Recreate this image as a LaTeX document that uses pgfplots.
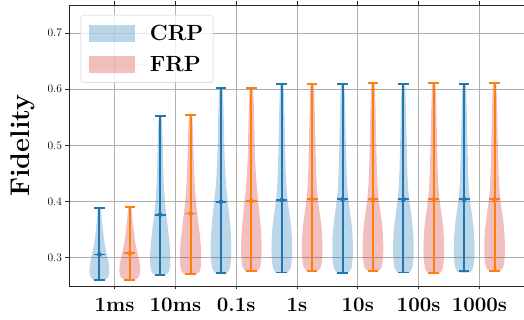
\documentclass[border=0pt]{standalone}
\usepackage{pgfplots}
\usepackage{pgfplotstable}
\pgfplotsset{compat=1.18}
\definecolor{tabblue}{HTML}{1F77B4}
\definecolor{taborange}{HTML}{FF7F0E}
\definecolor{tabred}{HTML}{D62728}
\definecolor{gridc}{HTML}{B0B0B0}

% violin outlines: y value and half width (axis x units)
\pgfplotstableread{
y hw
0.2600 0
0.2600 0.058
0.2615 0.107
0.2650 0.140
0.2720 0.161
0.2800 0.164
0.2900 0.153
0.3000 0.135
0.3100 0.115
0.3200 0.095
0.3330 0.076
0.3500 0.058
0.3650 0.043
0.3800 0.031
0.3890 0.023
0.3890 0
}\Acrp
\pgfplotstableread{
y hw
0.2610 0
0.2610 0.060
0.2625 0.112
0.2660 0.147
0.2730 0.169
0.2810 0.172
0.2910 0.161
0.3010 0.142
0.3110 0.121
0.3210 0.100
0.3340 0.080
0.3510 0.061
0.3660 0.045
0.3810 0.033
0.3910 0.024
0.3910 0
}\Afrp
\pgfplotstableread{
y hw
0.270 0
0.270 0.070
0.2715 0.115
0.276 0.145
0.285 0.162
0.300 0.166
0.315 0.162
0.330 0.150
0.345 0.135
0.360 0.118
0.380 0.097
0.400 0.078
0.430 0.060
0.470 0.047
0.510 0.040
0.540 0.031
0.552 0.024
0.552 0
}\Bcrp
\pgfplotstableread{
y hw
0.271 0
0.271 0.072
0.2725 0.120
0.277 0.152
0.286 0.170
0.301 0.175
0.316 0.172
0.331 0.162
0.346 0.147
0.361 0.130
0.381 0.108
0.401 0.088
0.431 0.068
0.471 0.052
0.511 0.043
0.541 0.033
0.554 0.025
0.554 0
}\Bfrp
\pgfplotstableread{
y hw
0.273 0
0.273 0.075
0.2745 0.110
0.280 0.140
0.290 0.158
0.305 0.168
0.320 0.170
0.335 0.166
0.350 0.158
0.370 0.141
0.392 0.120
0.415 0.097
0.440 0.077
0.470 0.062
0.500 0.054
0.530 0.049
0.560 0.043
0.585 0.035
0.602 0.025
0.602 0
}\Ccrp
\pgfplotstableread{
y hw
0.276 0
0.276 0.075
0.2775 0.112
0.283 0.142
0.292 0.158
0.306 0.167
0.321 0.169
0.336 0.165
0.351 0.157
0.371 0.140
0.393 0.120
0.416 0.098
0.441 0.078
0.471 0.063
0.501 0.055
0.531 0.050
0.561 0.044
0.586 0.036
0.603 0.025
0.603 0
}\Cfrp
\pgfplotstableread{
y hw
0.274 0
0.274 0.075
0.2755 0.112
0.281 0.142
0.290 0.158
0.303 0.168
0.318 0.170
0.335 0.166
0.350 0.157
0.365 0.143
0.380 0.124
0.395 0.104
0.410 0.088
0.430 0.074
0.455 0.064
0.490 0.056
0.525 0.049
0.560 0.043
0.590 0.035
0.610 0.025
0.610 0
}\Dcrp
\pgfplotstableread{
y hw
0.277 0
0.277 0.075
0.2785 0.112
0.284 0.142
0.292 0.158
0.305 0.168
0.319 0.170
0.335 0.166
0.350 0.157
0.365 0.143
0.380 0.124
0.395 0.104
0.410 0.088
0.430 0.074
0.455 0.064
0.490 0.056
0.525 0.049
0.560 0.043
0.590 0.035
0.611 0.025
0.611 0
}\Dfrp
\pgfplotstableread{
y hw
0.273 0
0.273 0.075
0.2745 0.112
0.280 0.142
0.290 0.158
0.303 0.168
0.318 0.170
0.335 0.166
0.350 0.157
0.365 0.143
0.380 0.124
0.395 0.104
0.410 0.088
0.430 0.074
0.455 0.064
0.490 0.056
0.525 0.049
0.560 0.043
0.590 0.035
0.611 0.025
0.611 0
}\Dfrpb
% statistics: position, median, min, max
\pgfplotstableread{
x med min max
0.75 0.306 0.260 0.389
1.75 0.377 0.270 0.552
2.75 0.400 0.273 0.602
3.75 0.403 0.274 0.610
4.75 0.404 0.273 0.610
5.75 0.404 0.274 0.609
6.75 0.404 0.276 0.609
}\crpstats
\pgfplotstableread{
x med min max
1.25 0.308 0.261 0.391
2.25 0.379 0.271 0.554
3.25 0.401 0.276 0.603
4.25 0.404 0.277 0.610
5.25 0.404 0.277 0.611
6.25 0.404 0.273 0.611
7.25 0.404 0.277 0.611
}\frpstats

\newcommand{\violin}[3]{%
  \addplot[#3, forget plot] table[x expr=#2+\thisrow{hw}, y=y] {#1};
  \addplot[#3, forget plot] table[x expr=#2-\thisrow{hw}, y=y] {#1};
}
% vertical extent with caps, and median bar
\newcommand{\stats}[2]{%
  \addplot[#2, only marks, mark=none, forget plot,
    error bars/.cd, y dir=both, y explicit, error mark=|,
    error bar style={#2, line width=1.9pt},
    error mark options={#2, line width=1.9pt, mark size=5.3pt}]
    table[x=x, y=med, y error plus expr=\thisrow{max}-\thisrow{med},
      y error minus expr=\thisrow{med}-\thisrow{min}] {#1};
  \addplot[#2, only marks, mark=none, forget plot,
    error bars/.cd, x dir=both, x fixed=0.088, error mark=none,
    error bar style={#2, line width=1.9pt}]
    table[x=x, y=med] {#1};
}

\begin{document}
\begin{tikzpicture}
\useasboundingbox (0,0) rectangle (524pt,320pt);
\begin{axis}[
  at={(69pt,34pt)}, anchor=south west,
  scale only axis, width=456pt, height=281pt,
  xmin=0.25, xmax=7.75, ymin=0.25, ymax=0.75,
  xtick={1,2,3,4,5,6,7},
  xticklabels={1ms,10ms,0.1s,1s,10s,100s,1000s},
  ytick={0.3,0.4,0.5,0.6,0.7},
  yticklabels={0.3,0.4,0.5,0.6,0.7},
  grid=major, grid style={gridc, line width=0.8pt},
  tick align=outside, major tick length=3.5pt,
  tick style={black!85, line width=0.8pt},
  axis line style={black!85, line width=0.9pt},
  xticklabel style={font=\fontsize{20.5}{24}\selectfont\bfseries, yshift=-5pt},
  yticklabel style={font=\fontsize{11.5}{14}\selectfont},
  ylabel={Fidelity},
  every axis y label/.style={at={(axis description cs:-0.101,0.5)}, rotate=90, anchor=center,
    font=\fontsize{27}{32}\selectfont\bfseries},
  legend image code/.code={%
    \begin{scope}[#1]
    \pgfsetcornersarced{\pgfpointorigin}%
    \pgfpathrectangle{\pgfpoint{0pt}{-8.5pt}}{\pgfpoint{46pt}{17pt}}%
    \pgfusepath{fill}%
    \end{scope}
    \path (0pt,0pt) -- (59pt,0pt);},
  legend style={at={(0.0257,0.9644)}, anchor=north west, draw=black!20,
    fill=white, fill opacity=0.8, text opacity=1, rounded corners=3pt,
    font=\fontsize{22}{26}\selectfont\bfseries, inner xsep=8pt, inner ysep=8pt,
    row sep=10pt},
  legend cell align=left,
  crpv/.style={draw=none, fill=tabblue, fill opacity=0.3},
  frpv/.style={draw=none, fill=tabred, fill opacity=0.3},
]
\addlegendimage{draw=none, fill=tabblue, fill opacity=0.3}
\addlegendentry{CRP}
\addlegendimage{draw=none, fill=tabred, fill opacity=0.3}
\addlegendentry{FRP}

\violin{\Acrp}{0.75}{crpv}
\violin{\Bcrp}{1.75}{crpv}
\violin{\Ccrp}{2.75}{crpv}
\violin{\Dcrp}{3.75}{crpv}
\violin{\Dcrp}{4.75}{crpv}
\violin{\Dcrp}{5.75}{crpv}
\violin{\Dcrp}{6.75}{crpv}
\violin{\Afrp}{1.25}{frpv}
\violin{\Bfrp}{2.25}{frpv}
\violin{\Cfrp}{3.25}{frpv}
\violin{\Dfrp}{4.25}{frpv}
\violin{\Dfrp}{5.25}{frpv}
\violin{\Dfrpb}{6.25}{frpv}
\violin{\Dfrp}{7.25}{frpv}

\stats{\crpstats}{tabblue}
\stats{\frpstats}{taborange}
\end{axis}
\end{tikzpicture}
\end{document}
